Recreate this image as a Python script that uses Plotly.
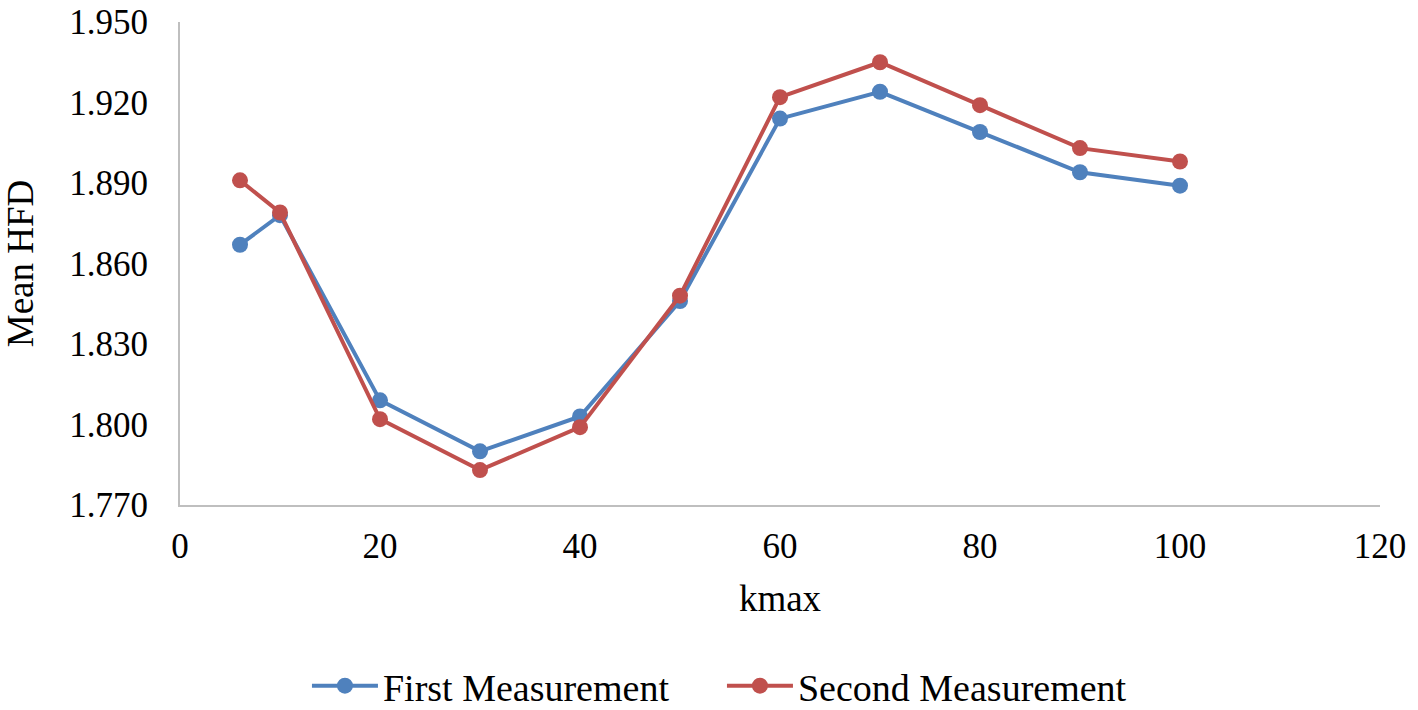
import plotly.graph_objects as go

# kmax values and mean HFD
kmax = [6, 10, 20, 30, 40, 50, 60, 70, 80, 90, 100]
first_meas = [1.867, 1.878, 1.809, 1.790, 1.803, 1.846, 1.914, 1.924, 1.909, 1.894, 1.889]
second_meas = [1.891, 1.879, 1.802, 1.783, 1.799, 1.848, 1.922, 1.935, 1.919, 1.903, 1.898]

y_ticks = [1.770, 1.800, 1.830, 1.860, 1.890, 1.920, 1.950]
x_ticks = [0, 20, 40, 60, 80, 100, 120]

BLUE = "#4f81bd"
RED = "#c0504d"
FONT = "Liberation Serif"

fig = go.Figure()
fig.add_trace(go.Scatter(
    name="First Measurement",
    x=kmax,
    y=first_meas,
    mode="lines+markers",
    line={"width": 4, "color": BLUE},
    marker={"size": 16, "color": BLUE},
))
fig.add_trace(go.Scatter(
    name="Second Measurement",
    x=kmax,
    y=second_meas,
    mode="lines+markers",
    line={"width": 4, "color": RED},
    marker={"size": 16, "color": RED},
))

fig.update_layout(
    width=1418,
    height=710,
    margin=dict(l=180, r=38, t=22, b=205, autoexpand=False),
    plot_bgcolor="white",
    paper_bgcolor="white",
    font={"family": FONT, "color": "black", "size": 35},
    xaxis={
        "range": [0, 120],
        "tickvals": x_ticks,
        "showgrid": False,
        "zeroline": False,
        "showline": True,
        "linecolor": "#bfbfbf",
        "linewidth": 2,
        "ticks": "",
        "ticklabelstandoff": 9,
        "ticklabeloverflow": "allow",
        "tickfont": {"size": 35},
        "automargin": False,
        "title": {"text": "kmax", "font": {"size": 37}, "standoff": 20},
    },
    yaxis={
        "range": [1.770, 1.950],
        "tickvals": y_ticks,
        "tickformat": ".3f",
        "showgrid": False,
        "zeroline": False,
        "showline": True,
        "linecolor": "#bfbfbf",
        "linewidth": 2,
        "ticks": "",
        "ticklabelstandoff": 23,
        "ticklabeloverflow": "allow",
        "tickfont": {"size": 35},
        "automargin": False,
        "title": {"text": "Mean HFD", "font": {"size": 37}, "standoff": 34},
    },
    showlegend=True,
    legend=dict(
        orientation="h",
        x=0.1058,
        xanchor="left",
        y=-0.3747,
        yanchor="middle",
        font={"size": 38},
        itemwidth=66,
        entrywidth=334,
        bgcolor="rgba(0,0,0,0)",
    ),
)

# drop the default body margin so the figure fills the window exactly
fig.write_html(
    "out.html",
    config={"displayModeBar": False},
    post_script="document.body.style.margin = '0';",
)
